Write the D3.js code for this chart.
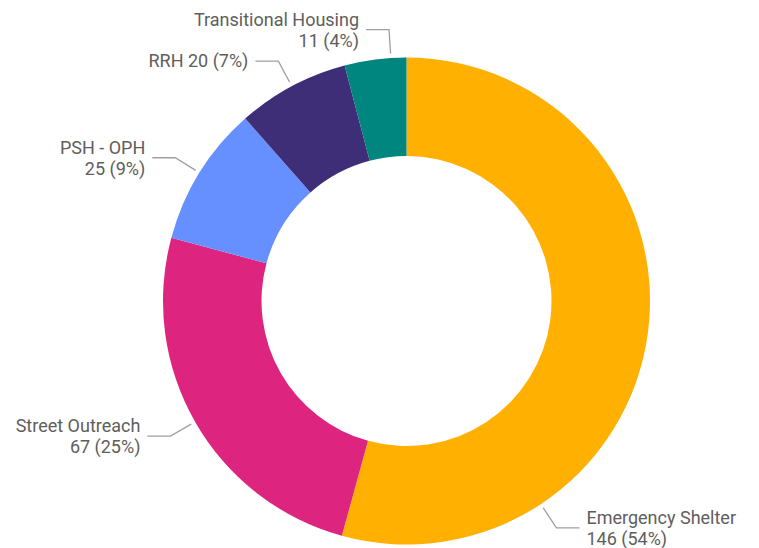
<!DOCTYPE html>
<html>
<head>
<meta charset="utf-8">
<script src="https://cdn.jsdelivr.net/npm/d3@7"></script>
<style>
  html, body { margin: 0; padding: 0; background: #fff; }
  svg { display: block; font-family: Roboto, "Noto Sans", sans-serif; }
  .lbl { fill: #605e5c; font-size: 18px; }
  .leader { fill: none; stroke: #a19f9d; stroke-width: 1.3; }
</style>
</head>
<body>
<div id="chart"></div>
<script>
// data
const categories = ["Emergency Shelter", "Street Outreach", "PSH - OPH", "RRH", "Transitional Housing"];
const values = [146, 67, 25, 20, 11];
const percents = ["54%", "25%", "9%", "7%", "4%"];
const colors = ["#FFB000", "#DD247F", "#6690FF", "#3E2E78", "#00857F"];

// where along each slice the leader line starts (fraction of slice), and label layout
const leaderAt = [0.75, 0.5, 0.5, 0.5, 0.75];
const oneLine = [false, false, false, true, false];

const width = 759, height = 548;
const cx = 406.5, cy = 301;
const outerR = 243.5, innerR = 145;

const svg = d3.select("#chart").append("svg")
    .attr("width", width)
    .attr("height", height);

const g = svg.append("g")
    .attr("transform", `translate(${cx},${cy})`);

const rows = categories.map((c, i) => ({ name: c, value: values[i], pct: percents[i], i: i }));

const pie = d3.pie()
    .value(d => d.value)
    .sort(null);

const arc = d3.arc()
    .innerRadius(innerR)
    .outerRadius(outerR);

const arcs = pie(rows);

g.selectAll("path.slice")
    .data(arcs)
    .enter()
    .append("path")
    .attr("class", "slice")
    .attr("d", arc)
    .attr("fill", d => colors[d.data.i]);

// leader lines + labels
const r1 = 248, r2 = 272, run = 23, gap = 7, lineH = 21;

function pt(a, r) {
    return [r * Math.sin(a), -r * Math.cos(a)];
}

arcs.forEach(d => {
    const a = d.startAngle + (d.endAngle - d.startAngle) * leaderAt[d.data.i];
    const p1 = pt(a, r1);
    const p2 = pt(a, r2);
    const right = Math.sin(a) > 0;
    const p3 = [p2[0] + (right ? run : -run), p2[1]];

    g.append("polyline")
        .attr("class", "leader")
        .attr("points", [p1, p2, p3].map(p => p.join(",")).join(" "));

    const tx = p3[0] + (right ? gap : -gap);
    const t = g.append("text")
        .attr("class", "lbl")
        .attr("text-anchor", right ? "start" : "end");

    if (oneLine[d.data.i]) {
        t.append("tspan")
            .attr("x", tx)
            .attr("y", p2[1] + 6)
            .text(`${d.data.name} ${d.data.value} (${d.data.pct})`);
    } else {
        t.append("tspan")
            .attr("x", tx)
            .attr("y", p2[1] - 4)
            .text(d.data.name);
        t.append("tspan")
            .attr("x", tx)
            .attr("y", p2[1] - 4 + lineH)
            .text(`${d.data.value} (${d.data.pct})`);
    }
});
</script>
</body>
</html>
